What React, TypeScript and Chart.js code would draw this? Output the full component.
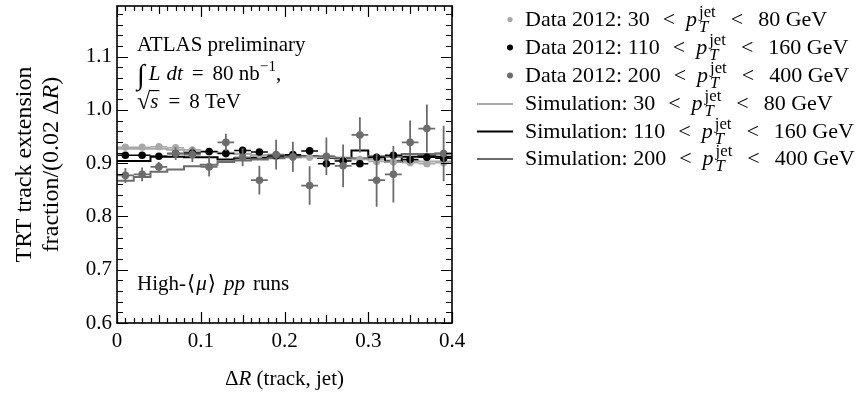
import { useEffect, useRef } from 'react';
import { Chart, registerables } from 'chart.js';

Chart.register(...registerables);

// ---------- data ----------
const binEdges = [0, 0.02, 0.04, 0.06, 0.08, 0.1, 0.12, 0.14, 0.16, 0.18, 0.2, 0.22, 0.24, 0.26, 0.28, 0.3, 0.32, 0.34, 0.36, 0.38, 0.4];
const binCenters = [0.01, 0.03, 0.05, 0.07, 0.09, 0.11, 0.13, 0.15, 0.17, 0.19, 0.21, 0.23, 0.25, 0.27, 0.29, 0.31, 0.33, 0.35, 0.37, 0.39];

const data30 = [0.930, 0.930, 0.931, 0.929, 0.925, 0.921, 0.920, 0.918, 0.916, 0.914, 0.911, 0.911, 0.911, 0.906, 0.907, 0.903, 0.902, 0.901, 0.899, 0.901];
const err30 = [0.002, 0.002, 0.002, 0.002, 0.002, 0.002, 0.002, 0.002, 0.002, 0.002, 0.003, 0.003, 0.003, 0.003, 0.003, 0.003, 0.003, 0.003, 0.003, 0.003];

const data110 = [0.915, 0.915, 0.913, 0.918, 0.919, 0.922, 0.918, 0.924, 0.921, 0.914, 0.916, 0.923, 0.899, 0.904, 0.899, 0.911, 0.915, 0.907, 0.911, 0.909];
const err110 = [0.003, 0.003, 0.003, 0.003, 0.003, 0.003, 0.003, 0.003, 0.004, 0.004, 0.004, 0.004, 0.004, 0.004, 0.005, 0.005, 0.005, 0.005, 0.005, 0.005];

const data200 = [0.877, 0.879, 0.893, 0.918, 0.916, 0.893, 0.939, 0.911, 0.868, 0.916, 0.912, 0.858, 0.913, 0.895, 0.953, 0.868, 0.879, 0.939, 0.965, 0.918];
const err200 = [0.014, 0.013, 0.009, 0.012, 0.014, 0.018, 0.016, 0.017, 0.027, 0.028, 0.028, 0.036, 0.035, 0.040, 0.033, 0.050, 0.053, 0.041, 0.045, 0.052];

const sim30 = [0.927, 0.927, 0.927, 0.925, 0.922, 0.921, 0.919, 0.917, 0.915, 0.914, 0.912, 0.911, 0.910, 0.909, 0.908, 0.907, 0.905, 0.904, 0.903, 0.903];
const sim110 = [0.904, 0.904, 0.912, 0.912, 0.911, 0.911, 0.907, 0.909, 0.910, 0.912, 0.913, 0.913, 0.910, 0.909, 0.924, 0.911, 0.903, 0.912, 0.913, 0.912];
const sim200 = [0.867, 0.874, 0.884, 0.888, 0.894, 0.897, 0.902, 0.905, 0.907, 0.909, 0.911, 0.912, 0.911, 0.910, 0.909, 0.913, 0.912, 0.917, 0.917, 0.918];

const xTickValues = [0, 0.1, 0.2, 0.3, 0.4];
const xTickLabels = ['0', '0.1', '0.2', '0.3', '0.4'];
const yTickValues = [0.6, 0.7, 0.8, 0.9, 1.0, 1.1];
const yTickLabels = ['0.6', '0.7', '0.8', '0.9', '1.0', '1.1'];

const legendRanges = [['30', '80'], ['110', '160'], ['200', '400']];

// ---------- style ----------
const FONT = '"Liberation Serif", "DejaVu Serif", serif';
const LIGHT = '#a8a8a8';
const BLACK = '#000000';
const DARK = '#6c6c6c';
const seriesColors = [LIGHT, BLACK, DARK];

type Seg = {
  t?: string;
  it?: boolean;
  sc?: number;
  dy?: number;
  gapL?: number;
  gapR?: number;
  over?: boolean;
  stack?: { sup: string; sub: string; supDy: number; subDy: number };
};

function fontStr(size: number, it: boolean) {
  return `${it ? 'italic ' : ''}${size}px ${FONT}`;
}

function segWidth(ctx: CanvasRenderingContext2D, s: Seg, size: number) {
  const sz = size * (s.sc ?? 1);
  if (s.stack) {
    ctx.font = fontStr(sz, false);
    const w1 = ctx.measureText(s.stack.sup).width;
    ctx.font = fontStr(sz, true);
    const w2 = ctx.measureText(s.stack.sub).width;
    return Math.max(w1, w2);
  }
  ctx.font = fontStr(sz, !!s.it);
  return ctx.measureText(s.t ?? '').width;
}

function drawRich(ctx: CanvasRenderingContext2D, x: number, y: number, segs: Seg[], size: number, align: 'left' | 'center' = 'left') {
  let total = 0;
  const widths = segs.map((s) => {
    const w = segWidth(ctx, s, size);
    total += (s.gapL ?? 0) + w + (s.gapR ?? 0);
    return w;
  });
  let cx = align === 'center' ? x - total / 2 : x;
  ctx.fillStyle = '#000';
  ctx.textBaseline = 'alphabetic';
  ctx.textAlign = 'left';
  segs.forEach((s, i) => {
    cx += s.gapL ?? 0;
    const sz = size * (s.sc ?? 1);
    if (s.stack) {
      ctx.font = fontStr(sz, false);
      ctx.fillText(s.stack.sup, cx, y + s.stack.supDy);
      ctx.font = fontStr(sz, true);
      ctx.fillText(s.stack.sub, cx, y + s.stack.subDy);
    } else {
      ctx.font = fontStr(sz, !!s.it);
      ctx.fillText(s.t ?? '', cx, y + (s.dy ?? 0));
      if (s.over) {
        ctx.save();
        ctx.strokeStyle = '#000';
        ctx.lineWidth = 1.2;
        ctx.beginPath();
        ctx.moveTo(cx - 1, y - size * 0.83);
        ctx.lineTo(cx + widths[i] + 1, y - size * 0.83);
        ctx.stroke();
        ctx.restore();
      }
    }
    cx += widths[i] + (s.gapR ?? 0);
  });
}

function ptSegs(prefix: string, lo: string, hi: string): Seg[] {
  return [
    { t: `${prefix} ${lo}` },
    { t: '<', gapL: 13, gapR: 11 },
    { t: 'p', it: true },
    { stack: { sup: 'jet', sub: 'T', supDy: -9, subDy: 6 }, sc: 0.76, gapL: 2 },
    { t: '<', gapL: 15, gapR: 15 },
    { t: `${hi} GeV` },
  ];
}

const errorBarsPlugin = {
  id: 'errorBars',
  beforeDatasetDraw(chart: any, args: any) {
    const ds = chart.data.datasets[args.index];
    if (!ds.errY) return;
    const { ctx, chartArea: a, scales } = chart;
    const xs = scales.x;
    const ys = scales.y;
    ctx.save();
    ctx.beginPath();
    ctx.rect(a.left, a.top, a.right - a.left, a.bottom - a.top);
    ctx.clip();
    ctx.strokeStyle = ds.borderColor;
    ctx.lineWidth = ds.errWidth;
    ctx.beginPath();
    ds.data.forEach((p: any, i: number) => {
      const px = xs.getPixelForValue(p.x);
      const y0 = ys.getPixelForValue(p.y - ds.errY[i]);
      const y1 = ys.getPixelForValue(p.y + ds.errY[i]);
      const py = ys.getPixelForValue(p.y);
      const xl = xs.getPixelForValue(p.x - ds.halfWidth);
      const xr = xs.getPixelForValue(p.x + ds.halfWidth);
      ctx.moveTo(px, y0);
      ctx.lineTo(px, y1);
      ctx.moveTo(xl, py);
      ctx.lineTo(xr, py);
    });
    ctx.stroke();
    ctx.restore();
  },
};

const frameTicksPlugin = {
  id: 'frameTicks',
  afterDraw(chart: any) {
    const { ctx, chartArea: a, scales } = chart;
    const xs = scales.x;
    const ys = scales.y;
    ctx.save();
    ctx.strokeStyle = '#000';
    ctx.lineWidth = 1.2;
    ctx.beginPath();
    for (let k = 0; k <= 40; k++) {
      const px = Math.round(xs.getPixelForValue(k * 0.01)) + 0.5;
      const len = k % 10 === 0 ? 11 : k % 5 === 0 ? 8 : 5;
      ctx.moveTo(px, a.bottom);
      ctx.lineTo(px, a.bottom - len);
      ctx.moveTo(px, a.top);
      ctx.lineTo(px, a.top + len);
    }
    for (let k = 0; 0.6 + k * 0.02 <= ys.max + 1e-9; k++) {
      const py = Math.round(ys.getPixelForValue(0.6 + k * 0.02)) + 0.5;
      const len = k % 5 === 0 ? 11 : 6;
      ctx.moveTo(a.left, py);
      ctx.lineTo(a.left + len, py);
      ctx.moveTo(a.right, py);
      ctx.lineTo(a.right - len, py);
    }
    ctx.stroke();
    ctx.lineWidth = 1.6;
    ctx.strokeRect(a.left, a.top, a.right - a.left, a.bottom - a.top);
    ctx.restore();
  },
};

const textPlugin = {
  id: 'texts',
  afterDraw(chart: any) {
    const { ctx, chartArea: a } = chart;
    ctx.save();
    const S = 21;
    const tx = a.left + 20;
    drawRich(ctx, tx, 51, [{ t: 'ATLAS preliminary' }], S);
    drawRich(ctx, tx, 80, [
      { t: '∫', sc: 1.35, dy: 4 },
      { t: 'L', it: true, gapL: 4 },
      { t: 'dt', it: true, gapL: 6 },
      { t: '=', gapL: 9, gapR: 9 },
      { t: '80 nb' },
      { t: '−1', sc: 0.72, dy: -9 },
      { t: ',' },
    ], S);
    drawRich(ctx, tx, 108, [
      { t: '√', sc: 1.15, dy: 1 },
      { t: 's', it: true, over: true },
      { t: '=', gapL: 10, gapR: 9 },
      { t: '8 TeV' },
    ], S);
    drawRich(ctx, tx, 290, [
      { t: 'High-' },
      { t: '⟨', gapL: 1 },
      { t: 'μ', it: true, gapL: 1, gapR: 1 },
      { t: '⟩' },
      { t: 'pp', it: true, gapL: 8 },
      { t: 'runs', gapL: 8 },
    ], S);

    // axis titles
    drawRich(ctx, (a.left + a.right) / 2, 385, [{ t: 'Δ' }, { t: 'R', it: true }, { t: ' (track, jet)' }], S, 'center');
    const cy = (a.top + a.bottom) / 2;
    const YS = 24;
    ctx.save();
    ctx.translate(31, cy);
    ctx.rotate(-Math.PI / 2);
    drawRich(ctx, 0, 0, [{ t: 'TRT track extension' }], YS, 'center');
    ctx.restore();
    ctx.save();
    ctx.translate(58, cy);
    ctx.rotate(-Math.PI / 2);
    drawRich(ctx, 0, 0, [{ t: 'fraction/(0.02 ' }, { t: 'Δ' }, { t: 'R', it: true }, { t: ')' }], YS, 'center');
    ctx.restore();

    // legend
    const LS = 22;
    const rowY = [19.5, 47.5, 75.5, 104, 131.5, 159];
    const textX = 525;
    legendRanges.forEach((r, i) => {
      const y = rowY[i];
      ctx.fillStyle = seriesColors[i];
      ctx.beginPath();
      ctx.arc(510, y, i === 0 ? 2.6 : 3, 0, Math.PI * 2);
      ctx.fill();
      drawRich(ctx, textX, y + 6, ptSegs('Data 2012:', r[0], r[1]), LS);
    });
    legendRanges.forEach((r, i) => {
      const y = rowY[i + 3];
      ctx.strokeStyle = seriesColors[i];
      ctx.lineWidth = 2;
      ctx.beginPath();
      ctx.moveTo(477, y);
      ctx.lineTo(513, y);
      ctx.stroke();
      drawRich(ctx, textX, y + 6, ptSegs('Simulation:', r[0], r[1]), LS);
    });
    ctx.restore();
  },
};

function stepData(vals: number[]) {
  return binEdges.map((x, i) => ({ x, y: vals[Math.min(i, vals.length - 1)] }));
}

function pointData(vals: number[]) {
  return binCenters.map((x, i) => ({ x, y: vals[i] }));
}

export default function App() {
  const ref = useRef<HTMLCanvasElement | null>(null);
  useEffect(() => {
    if (!ref.current) return;
    const chart = new Chart(ref.current, {
      type: 'scatter',
      data: {
        datasets: [
          {
            label: 'Data 2012: 30 < pT < 80 GeV',
            data: pointData(data30),
            errY: err30, halfWidth: 0.01, errWidth: 1.5,
            backgroundColor: LIGHT, borderColor: LIGHT,
            pointRadius: 3.6, pointBorderWidth: 0, order: 3,
          } as any,
          {
            label: 'Data 2012: 110 < pT < 160 GeV',
            data: pointData(data110),
            errY: err110, halfWidth: 0.01, errWidth: 1.5,
            backgroundColor: BLACK, borderColor: BLACK,
            pointRadius: 3.8, pointBorderWidth: 0, order: 2,
          } as any,
          {
            label: 'Data 2012: 200 < pT < 400 GeV',
            data: pointData(data200),
            errY: err200, halfWidth: 0.01, errWidth: 1.8,
            backgroundColor: DARK, borderColor: DARK,
            pointRadius: 3.8, pointBorderWidth: 0, order: 1,
          } as any,
          {
            type: 'line', label: 'Simulation: 30 < pT < 80 GeV',
            data: stepData(sim30), stepped: true,
            borderColor: LIGHT, borderWidth: 2, pointRadius: 0, fill: false, order: 6,
          } as any,
          {
            type: 'line', label: 'Simulation: 110 < pT < 160 GeV',
            data: stepData(sim110), stepped: true,
            borderColor: BLACK, borderWidth: 2, pointRadius: 0, fill: false, order: 5,
          } as any,
          {
            type: 'line', label: 'Simulation: 200 < pT < 400 GeV',
            data: stepData(sim200), stepped: true,
            borderColor: DARK, borderWidth: 2, pointRadius: 0, fill: false, order: 4,
          } as any,
        ],
      },
      options: {
        animation: false,
        responsive: false,
        events: [],
        layout: { padding: { top: 6, right: 414, left: 0, bottom: 0 } },
        plugins: { legend: { display: false }, tooltip: { enabled: false } },
        scales: {
          x: {
            type: 'linear', min: 0, max: 0.4,
            afterFit: (s: any) => { s.height = 76; s.paddingLeft = 0; s.paddingRight = 0; },
            afterBuildTicks: (s: any) => { s.ticks = xTickValues.map((v) => ({ value: v })); },
            ticks: {
              callback: (v: any) => {
                const i = xTickValues.findIndex((t) => Math.abs(t - Number(v)) < 1e-9);
                return i >= 0 ? xTickLabels[i] : '';
              },
              font: { family: FONT, size: 21 }, color: '#000', padding: 6, maxRotation: 0, autoSkip: false,
            },
            grid: { display: false, drawTicks: false },
            border: { display: false },
          },
          y: {
            type: 'linear', min: 0.6, max: 1.195,
            afterFit: (s: any) => { s.width = 117; s.paddingTop = 0; s.paddingBottom = 0; },
            afterBuildTicks: (s: any) => { s.ticks = yTickValues.map((v) => ({ value: v })); },
            ticks: {
              callback: (v: any) => {
                const i = yTickValues.findIndex((t) => Math.abs(t - Number(v)) < 1e-9);
                return i >= 0 ? yTickLabels[i] : '';
              },
              font: { family: FONT, size: 21 }, color: '#000', padding: 5, autoSkip: false,
            },
            grid: { display: false, drawTicks: false },
            border: { display: false },
          },
        },
      } as any,
      plugins: [errorBarsPlugin, frameTicksPlugin, textPlugin],
    });
    return () => chart.destroy();
  }, []);
  return (
    <div style={{ position: 'absolute', left: 0, top: 0, width: 866, height: 399, background: '#fff' }}>
      <canvas ref={ref} width={866} height={399} style={{ display: 'block', width: 866, height: 399 }} />
    </div>
  );
}
